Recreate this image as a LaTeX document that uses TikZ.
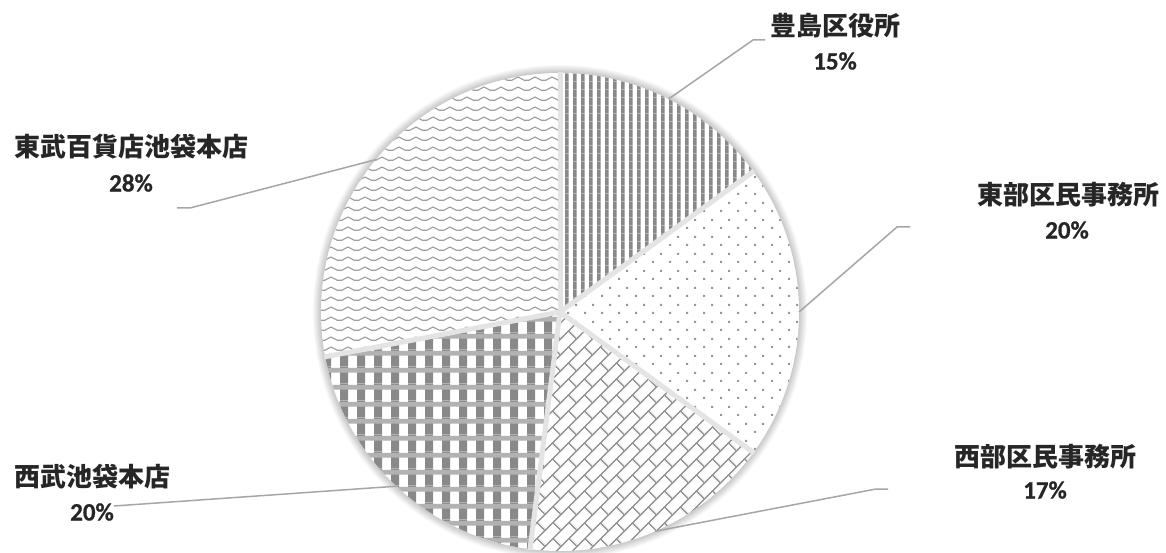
\documentclass[tikz,border=0pt]{standalone}
\usepackage{fontspec}
\setmainfont{Carlito}[BoldFont={Carlito Bold}]
\newfontfamily\pctfont{Carlito Bold}[FakeBold=0.6]
\newfontfamily\jp{Noto Sans CJK JP}
\usetikzlibrary{patterns.meta,calc}

\definecolor{patgray}{RGB}{137,137,137}
\definecolor{lightpat}{RGB}{150,150,150}
\definecolor{wavegray}{RGB}{158,158,158}
\definecolor{bandgray}{RGB}{178,178,178}
\definecolor{leadgray}{RGB}{166,166,166}
\definecolor{txt}{RGB}{38,38,38}
\definecolor{gapgray}{RGB}{228,228,228}

\tikzdeclarepattern{
  name=vstripes, type=uncolored,
  bounding box={(0pt,0pt) and (8.2pt,8pt)},
  tile size={(8.2pt,8pt)},
  code={\fill (0pt,-0.5pt) rectangle (4pt,8.5pt);}
}
\tikzdeclarepattern{
  name=sparsedots, type=uncolored,
  bounding box={(0pt,0pt) and (16.6pt,16.6pt)},
  tile size={(16.6pt,16.6pt)},
  code={\fill (3.15pt,3.15pt) rectangle (5.15pt,5.15pt);
        \fill (11.45pt,11.45pt) rectangle (13.45pt,13.45pt);}
}
\tikzdeclarepattern{
  name=diagbrick, type=uncolored,
  bounding box={(0pt,0pt) and (22.6pt,22.6pt)},
  tile size={(22.6pt,22.6pt)},
  tile transformation={rotate=45},
  code={\draw[line width=1.5pt] (-1pt,2.8pt) -- (23.6pt,2.8pt);
        \draw[line width=1.5pt] (-1pt,14.1pt) -- (23.6pt,14.1pt);
        \draw[line width=1.5pt] (5pt,2.8pt) -- (5pt,14.1pt);
        \draw[line width=1.5pt] (16.3pt,14.1pt) -- (16.3pt,23.6pt);
        \draw[line width=1.5pt] (16.3pt,-1pt) -- (16.3pt,2.8pt);}
}
\tikzdeclarepattern{
  name=plaid, type=colored,
  bounding box={(0pt,0pt) and (17pt,17pt)},
  tile size={(17pt,17pt)},
  code={\fill[patgray] (0pt,-0.5pt) rectangle (8.5pt,17.5pt);
        \fill[bandgray] (-0.5pt,11pt) rectangle (17.5pt,16pt);}
}
\tikzdeclarepattern{
  name=waves, type=uncolored,
  bounding box={(0pt,0pt) and (17pt,10pt)},
  tile size={(17pt,10pt)},
  code={\draw[line width=1.2pt] (-1pt,3pt) -- (2pt,3pt) .. controls (5pt,3pt) and (5pt,6.5pt) .. (8.5pt,6.5pt)
        .. controls (12pt,6.5pt) and (12pt,3pt) .. (15pt,3pt) -- (18pt,3pt);}
}

\tikzset{
  lab/.style={font=\jp\bfseries\fontsize{26}{30}\selectfont, text=txt, inner sep=0pt},
  pct/.style={font=\pctfont\fontsize{25}{30}\selectfont, text=txt, inner sep=0pt},
  leader/.style={draw=leadgray, line width=1.5pt},
  gapline/.style={draw=gapgray, line width=5pt},
}

\begin{document}
\begin{tikzpicture}[x=1pt,y=1pt]
\useasboundingbox (0,0) rectangle (1166,552);
\fill[white] (0,0) rectangle (1166,552);

\coordinate (C) at (560,240);
% soft shadow
\foreach \i in {1,...,9}{
  \fill[black,opacity=0.022] (C) circle[radius=239pt+\i*0.9pt];
}
\fill[white] (C) circle[radius=239pt];

% slices
\fill[pattern=vstripes, pattern color=patgray]
  (C) -- ++(90:239pt) arc[start angle=90, end angle=36, radius=239pt] -- cycle;
\fill[pattern=sparsedots, pattern color=lightpat]
  (C) -- ++(36:239pt) arc[start angle=36, end angle=-36, radius=239pt] -- cycle;
\fill[pattern=diagbrick, pattern color=lightpat]
  (C) -- ++(-36:239pt) arc[start angle=-36, end angle=-97.2, radius=239pt] -- cycle;
\fill[pattern=plaid]
  (C) -- ++(-97.2:239pt) arc[start angle=-97.2, end angle=-169.2, radius=239pt] -- cycle;
\fill[pattern=waves, pattern color=wavegray]
  (C) -- ++(-169.2:239pt) arc[start angle=-169.2, end angle=-270, radius=239pt] -- cycle;

% slice gaps
\foreach \a in {90,36,-36,-97.2,-169.2}{
  \draw[gapline] (C) -- ++(\a:240pt);
}

% labels
\node[lab] (l1) at (835,526.5) {豊島区役所};
\node[pct] (p1) at (835,491) {15\%};
\node[lab] (l2) at (1068,357) {東部区民事務所};
\node[pct] (p2) at (1067,322) {20\%};
\node[lab] (l3) at (1045,95) {西部区民事務所};
\node[pct] (p3) at (1045,62) {17\%};
\node[lab] (l4) at (92,75) {西武池袋本店};
\node[pct] (p4) at (92,40) {20\%};
\node[lab] (l5) at (131,405) {東武百貨店池袋本店};
\node[pct] (p5) at (131,369) {28\%};

% leader lines
\coordinate (e1) at ($(C)+(63:239pt)$);
\coordinate (k1) at (753,512);
\coordinate (t1) at (765,512);
\coordinate (e2) at ($(C)+(0:239pt)$);
\coordinate (k2) at (897,325);
\coordinate (t2) at (910,325);
\coordinate (e3) at ($(C)+(-66.6:239pt)$);
\coordinate (k3) at (876,63);
\coordinate (t3) at (888,63);
\coordinate (e4) at ($(C)+(-133.2:239pt)$);
\coordinate (t4) at (114,46);
\coordinate (e5) at ($(C)+(140.4:239pt)$);
\coordinate (k5) at (190,344);
\coordinate (t5) at (177,344);

\draw[leader] (e1) -- (k1) -- (t1);
\draw[leader] (e2) -- (k2) -- (t2);
\draw[leader] (e3) -- (k3) -- (t3);
\draw[leader] (e4) -- (t4);
\draw[leader] (e5) -- (k5) -- (t5);
\end{tikzpicture}
\end{document}
